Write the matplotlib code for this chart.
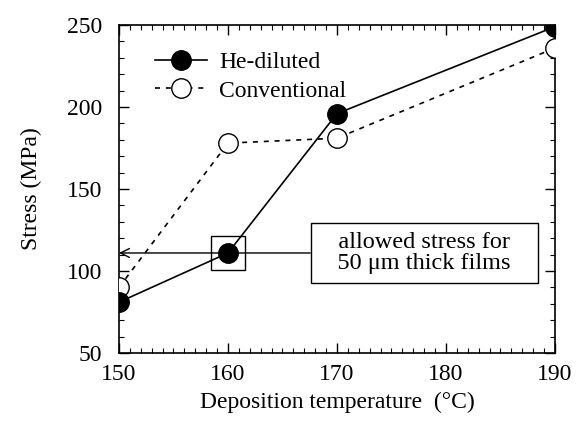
import matplotlib
matplotlib.use('agg')
import matplotlib.pyplot as plt
from matplotlib.ticker import MultipleLocator

temps = [150, 160, 170, 190]
he_diluted = [81, 111, 196, 249]
conventional = [90, 178, 181, 236]
allowed_temp = 160
allowed_stress = 111

plt.rcParams['font.family'] = ['Liberation Serif', 'DejaVu Serif']
FS = 17

fig = plt.figure(figsize=(5.79, 4.21), dpi=100)
ax = fig.add_axes([0.2055, 0.1615, 0.753, 0.779])

ax.plot(temps, he_diluted, '-', color='black', lw=1.2, marker='o', ms=14,
        mfc='black', mec='black', label='He-diluted', zorder=4)
ax.plot(temps, conventional, '--', color='black', lw=1.2, dashes=(3, 3.5),
        marker='o', ms=14, mfc='white', mec='black', mew=1.0,
        label='Conventional', zorder=3)

# square around the point that meets the allowed stress
ax.plot([allowed_temp], [allowed_stress], 's', ms=25, mfc='none', mec='black',
        mew=1.0, zorder=5)

# extra spaces widen the box sideways only
ax.annotate('   allowed stress for   \n   50 \u03bcm thick films   ',
            xy=(150, allowed_stress), xytext=(178, allowed_stress),
            ha='center', va='center', fontsize=17.5, linespacing=1.05,
            bbox=dict(boxstyle='square,pad=0.35', fc='white', ec='black', lw=1.0),
            arrowprops=dict(arrowstyle='->', color='black', lw=1.0,
                            mutation_scale=16, shrinkA=0, shrinkB=0),
            zorder=6)

ax.set_xlim(150, 190)
ax.set_ylim(50, 250)
ax.xaxis.set_major_locator(MultipleLocator(10))
ax.xaxis.set_minor_locator(MultipleLocator(1))
ax.yaxis.set_major_locator(MultipleLocator(50))
ax.yaxis.set_minor_locator(MultipleLocator(10))
ax.tick_params(which='both', direction='in', top=True, right=True, labelsize=FS)
ax.tick_params(which='major', length=7, width=1)
ax.tick_params(which='minor', length=3.5, width=0.8)
ax.tick_params(axis='y', pad=12)
ax.tick_params(axis='x', pad=8)
for s in ax.spines.values():
    s.set_linewidth(1.2)

ax.set_xlabel('Deposition temperature  (\u00b0C)', fontsize=FS, labelpad=5)
ax.set_ylabel('Stress (MPa)', fontsize=FS, labelpad=18)

ax.legend(loc='upper left', bbox_to_anchor=(0.045, 0.97), frameon=False,
          fontsize=FS, handlelength=2.2, handletextpad=0.5, labelspacing=0.3,
          borderpad=0.2)

fig.savefig('out.png', dpi=100)
